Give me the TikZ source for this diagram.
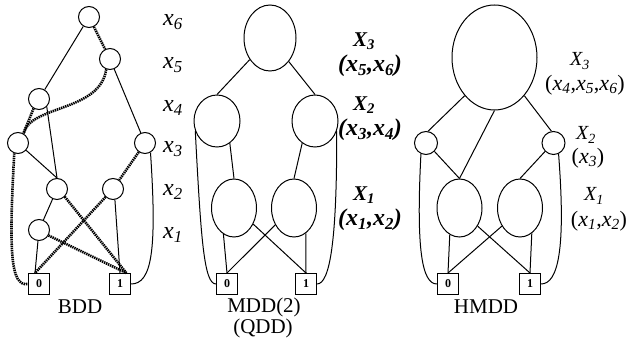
\documentclass[tikz,border=0pt]{standalone}
\usepackage{fontspec}
\setmainfont{Liberation Serif}
\usetikzlibrary{shapes.geometric}
\newcommand{\vv}[2]{#1\textsubscript{#2}}
\begin{document}
\begin{tikzpicture}[x=1pt,y=-1pt,line width=1pt,
  vnode/.style={circle,draw,minimum size=21pt,inner sep=0pt},
  ell/.style 2 args={ellipse,draw,minimum width=#1,minimum height=#2,inner sep=0pt},
  term/.style={rectangle,draw,minimum size=21pt,inner sep=0pt,font=\fontsize{12}{12}\selectfont\bfseries},
  zero/.style={line width=2.6pt,dash pattern=on 1.4pt off 0.8pt},
  lbl/.style={font=\fontsize{24}{24}\selectfont\itshape,inner sep=0pt},
  btop/.style={font=\fontsize{21}{21}\selectfont\bfseries\itshape,inner sep=0pt},
  bbot/.style={font=\fontsize{24}{24}\selectfont\bfseries\itshape,inner sep=0pt},
  htop/.style={font=\fontsize{20}{20}\selectfont\itshape,inner sep=0pt},
  hbot/.style={font=\fontsize{22}{22}\selectfont,inner sep=0pt},
  captxt/.style={font=\fontsize{21}{21}\selectfont,inner sep=0pt}]
\useasboundingbox (0,0) rectangle (629,347);

% ---------------- BDD ----------------
\node[vnode] (b6) at (89,17) {};
\node[vnode] (b5) at (110,59) {};
\node[vnode] (b4) at (39,99) {};
\node[vnode] (b3l) at (18,143) {};
\node[vnode] (b3r) at (145,143) {};
\node[vnode] (b2l) at (57,189) {};
\node[vnode] (b2r) at (113,189) {};
\node[vnode] (b1) at (39,230) {};
\node[term] (bt0) at (39,284) {0};
\node[term] (bt1) at (120,284) {1};

\draw (b6) -- (b4);
\draw[zero] (b6) -- (b5);
\draw (b5) -- (b3r);
\draw[zero] (b5.-110) .. controls (100,112) and (30,105) .. (b3l.60);
\draw[zero] (b4.-120) -- (b3l.60);
\draw (b4.-45) -- (b2l.north);
\draw (b3l) -- (b2l.north);
\draw[zero] (b3l.-110) .. controls (9,250) and (10,287) .. (bt0.west);
\draw[zero] (b3r) -- (b2r);
\draw (b3r.-60) .. controls (157,250) and (152,284) .. (bt1.east);
\draw (b2l) -- (b1);
\draw[zero] (b2l.-45) -- (bt1.60);
\draw[zero] (b2r) -- (bt0.110);
\draw (b2r.-80) -- (bt1.north);
\draw (b1) -- (bt0.110);
\draw[zero] (b1.-30) -- (bt1.60);

\node[lbl] (lx6) at (173,22) {\vv{x}{6}};
\node[lbl] (lx5) at (173,65) {\vv{x}{5}};
\node[lbl] (lx4) at (173,108) {\vv{x}{4}};
\node[lbl] (lx3) at (173,149) {\vv{x}{3}};
\node[lbl] (lx2) at (173,192) {\vv{x}{2}};
\node[lbl] (lx1) at (173,235) {\vv{x}{1}};
\node[captxt] (cbdd) at (80,307) {BDD};

% ---------------- MDD(2) ----------------
\node[ell={52pt}{66pt}] (mt) at (270,38) {};
\node[ell={46pt}{52pt}] (m2l) at (217,121) {};
\node[ell={46pt}{52pt}] (m2r) at (315,121) {};
\node[ell={45pt}{58pt}] (m1l) at (234,208) {};
\node[ell={45pt}{58pt}] (m1r) at (294,208) {};
\node[term] (mt0) at (227,284) {0};
\node[term] (mt1) at (306,284) {1};

\draw (mt) -- (m2l.north);
\draw (mt) -- (m2r.north);
\draw (m2l.-60) -- (m1l.north);
\draw (m2r.-120) -- (m1r.north);
\draw (m2l.205) .. controls (201,240) and (204,284) .. (mt0.west);
\draw (m2r.-25) .. controls (337,240) and (330,284) .. (mt1.east);
\draw (m1l.-112) -- (mt0.north);
\draw (m1l.-40) -- (mt1.north);
\draw (m1r.-138) -- (mt0.north);
\draw (m1r.-65) -- (mt1.north);

\node[btop] (mx3) at (364,41) {\vv{X}{3}};
\node[bbot] (mx3b) at (370,66) {(\vv{x}{5},\vv{x}{6})};
\node[btop] (mx2) at (364,105) {\vv{X}{2}};
\node[bbot] (mx2b) at (370,130) {(\vv{x}{3},\vv{x}{4})};
\node[btop] (mx1) at (364,195) {\vv{X}{1}};
\node[bbot] (mx1b) at (370,220) {(\vv{x}{1},\vv{x}{2})};
\node[captxt] (cmdd) at (264,307) {MDD(2)};
\node[captxt] (cqdd) at (263,328) {(QDD)};

% ---------------- HMDD ----------------
\node[ell={85pt}{105pt}] (ht) at (494.5,57.5) {};
\node[vnode,minimum size=23pt] (h2l) at (426,143) {};
\node[vnode,minimum size=23pt] (h2r) at (553.5,143) {};
\node[ell={45pt}{58pt}] (h1l) at (459.5,208) {};
\node[ell={45pt}{58pt}] (h1r) at (520,208) {};
\node[term] (ht0) at (448,284) {0};
\node[term] (ht1) at (530,284) {1};

\draw (ht.-128) -- (h2l.80);
\draw (ht.south) -- (h1l.north);
\draw (ht.-52) -- (h2r.100);
\draw (h2l.-45) -- (h1l.north);
\draw (h2r.-135) -- (h1r.north);
\draw (h2l.-115) .. controls (416,250) and (422,284) .. (ht0.west);
\draw (h2r.-65) .. controls (566,250) and (558,284) .. (ht1.east);
\draw (h1l.-110) -- (ht0.north);
\draw (h1l.-45) -- (ht1.north);
\draw (h1r.-135) -- (ht0.north);
\draw (h1r.-65) -- (ht1.north);

\node[htop] (hx3) at (580,61) {\vv{X}{3}};
\node[hbot] (hx3b) at (585,85) {(\textit{\vv{x}{4}},\textit{\vv{x}{5}},\textit{\vv{x}{6}})};
\node[htop] (hx2) at (586,135) {\vv{X}{2}};
\node[hbot] (hx2b) at (588,158) {(\textit{\vv{x}{3}})};
\node[htop] (hx1) at (594,196) {\vv{X}{1}};
\node[hbot] (hx1b) at (599,221) {(\textit{\vv{x}{1}},\textit{\vv{x}{2}})};
\node[captxt] (chmdd) at (486,307) {HMDD};
\end{tikzpicture}
\end{document}
